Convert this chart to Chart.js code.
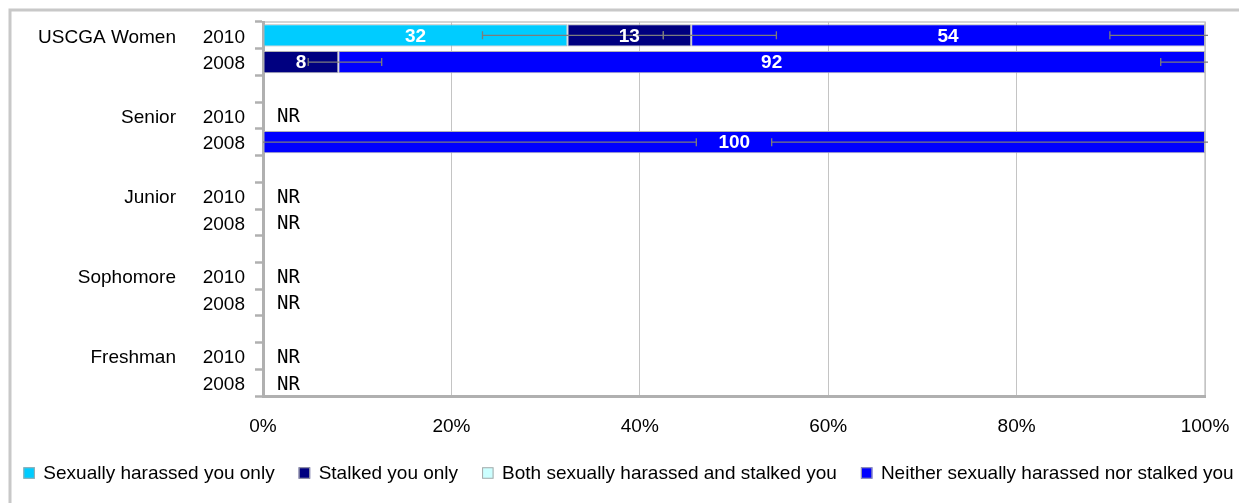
<!DOCTYPE html>
<html>
<head>
<meta charset="utf-8">
<script src="https://cdn.jsdelivr.net/npm/chart.js@4.4.1/dist/chart.umd.min.js"></script>
<style>
  body { margin: 0; background: #fff; }
  #wrap { position: relative; width: 1239px; height: 503px; }
</style>
</head>
<body>
<div id="wrap"><canvas id="chart"></canvas></div>
<script>
// row labels (blank rows are spacers between groups)
let years  = ['2010', '2008', '', '2010', '2008', '', '2010', '2008', '', '2010', '2008', '', '2010', '2008'];
let groups = ['USCGA Women', '', '', 'Senior', '', '', 'Junior', '', '', 'Sophomore', '', '', 'Freshman', ''];

// reported percentages, null = not reported
let harassedOnly = [32, 0, null, null, 0, null, null, null, null, null, null, null, null, null];
let stalkedOnly  = [13, 8, null, null, 0, null, null, null, null, null, null, null, null, null];
let bothHarassedStalked = [0, 0, null, null, 0, null, null, null, null, null, null, null, null, null];
let neither      = [54, 92, null, null, 100, null, null, null, null, null, null, null, null, null];

// margin of error bars, [low, high] on the percent axis
let harassedErr = [[23.3, 42.5], null, null, null, [-46, 46], null, null, null, null, null, null, null, null, null];
let stalkedErr  = [[42.5, 54.5], [4.8, 12.6], null, null, null, null, null, null, null, null, null, null, null, null];
let bothErr     = [null, null, null, null, null, null, null, null, null, null, null, null, null, null];
let neitherErr  = [[89.9, 110], [95.3, 104.7], null, null, [54, 146], null, null, null, null, null, null, null, null, null];

let seriesNames = ['Sexually harassed you only', 'Stalked you only', 'Both sexually harassed and stalked you', 'Neither sexually harassed nor stalked you'];
let seriesColors = ['#00ccff', '#000080', '#ccffff', '#0000ff'];

const FONT = '"Liberation Sans", Arial, sans-serif';
Chart.defaults.font.family = FONT;
Chart.defaults.font.size = 19;
Chart.defaults.color = '#000';

let allSeries = [harassedOnly, stalkedOnly, bothHarassedStalked, neither];
let allErr = [harassedErr, stalkedErr, bothErr, neitherErr];

// 100% stacked: each row scaled to its own total
let rowTotal = years.map((y, i) => allSeries.reduce((s, arr) => s + (arr[i] || 0), 0));
function toPct(arr) {
    return arr.map((v, i) => v == null ? null : v / rowTotal[i] * 100);
}

let datasets = allSeries.map((arr, k) => ({
    label: seriesNames[k],
    data: toPct(arr),
    raw: arr,
    err: allErr[k],
    backgroundColor: seriesColors[k],
    borderColor: '#b4b4b4',
    borderWidth: 1,
    borderSkipped: false,
    barPercentage: 0.835,
    categoryPercentage: 1
}));

const extras = {
    id: 'extras',
    beforeDraw(chart) {
        const ctx = chart.ctx, a = chart.chartArea;
        ctx.save();
        // outer frame
        ctx.strokeStyle = '#c8c8c8';
        ctx.lineWidth = 3;
        ctx.beginPath();
        ctx.moveTo(10, 510);
        ctx.lineTo(10, 10);
        ctx.lineTo(1250, 10);
        ctx.stroke();
        // plot frame
        ctx.lineWidth = 1.5;
        ctx.strokeRect(a.left, a.top, a.right - a.left, a.bottom - a.top);
        ctx.restore();
    },
    afterDatasetsDraw(chart) {
        const ctx = chart.ctx, a = chart.chartArea;
        const xs = chart.scales.x, ys = chart.scales.y;

        // error bars
        ctx.save();
        ctx.beginPath();
        ctx.rect(a.left, a.top, a.right - a.left + 3, a.bottom - a.top);
        ctx.clip();
        ctx.strokeStyle = '#7c7c7c';
        ctx.lineWidth = 1.3;
        chart.data.datasets.forEach((ds, k) => {
            const meta = chart.getDatasetMeta(k);
            ds.err.forEach((e, j) => {
                if (!e) return;
                const y = meta.data[j].y;
                const x1 = xs.getPixelForValue(e[0]);
                const x2 = xs.getPixelForValue(e[1]);
                ctx.beginPath();
                ctx.moveTo(Math.max(x1, a.left), y);
                ctx.lineTo(Math.min(x2, a.right + 3), y);
                if (x1 >= a.left) { ctx.moveTo(x1, y - 4); ctx.lineTo(x1, y + 4); }
                if (x2 <= a.right) { ctx.moveTo(x2, y - 4); ctx.lineTo(x2, y + 4); }
                ctx.stroke();
            });
        });
        ctx.restore();

        // value labels
        ctx.save();
        ctx.fillStyle = '#fff';
        ctx.font = 'bold 19px ' + FONT;
        ctx.textAlign = 'center';
        ctx.textBaseline = 'middle';
        chart.data.datasets.forEach((ds, k) => {
            const meta = chart.getDatasetMeta(k);
            ds.raw.forEach((v, j) => {
                if (!v) return;
                const c = meta.data[j].getCenterPoint();
                ctx.fillText(String(v), c.x, c.y + 1);
            });
        });

        // not reported rows
        ctx.fillStyle = '#000';
        ctx.font = '19px "DejaVu Sans Mono", monospace';
        ctx.textAlign = 'left';
        years.forEach((yr, j) => {
            if (!yr) return;
            const empty = allSeries.every(arr => arr[j] == null);
            if (empty) ctx.fillText('NR', a.left + 14, ys.getPixelForValue(j) + 2);
        });
        ctx.restore();
    },
    afterDraw(chart) {
        // legend row
        const ctx = chart.ctx;
        ctx.save();
        ctx.font = '19px ' + FONT;
        ctx.textBaseline = 'middle';
        const box = 11.5, gapText = 8.5, gapItem = 24;
        const widths = seriesNames.map(n => ctx.measureText(n).width);
        let total = widths.reduce((s, w) => s + box + gapText + w, 0) + gapItem * (seriesNames.length - 1);
        let x = 628.5 - total / 2;
        const yc = 473;
        seriesNames.forEach((n, k) => {
            ctx.fillStyle = seriesColors[k];
            ctx.fillRect(x, yc - box / 2, box, box);
            ctx.strokeStyle = '#a8a8a8';
            ctx.lineWidth = 1;
            ctx.strokeRect(x + 0.5, yc - box / 2 + 0.5, box - 1, box - 1);
            ctx.fillStyle = '#000';
            ctx.fillText(n, x + box + gapText, yc + 1);
            x += box + gapText + widths[k] + gapItem;
        });
        ctx.restore();
    }
};

new Chart(document.getElementById('chart'), {
    type: 'bar',
    data: { labels: years, datasets: datasets },
    options: {
        indexAxis: 'y',
        responsive: true,
        maintainAspectRatio: false,
        animation: false,
        layout: { padding: { top: 22, right: 34, bottom: 0, left: 0 } },
        plugins: { legend: { display: false }, tooltip: { enabled: false } },
        scales: {
            x: {
                stacked: true,
                min: 0,
                max: 100,
                ticks: { stepSize: 20, callback: v => v + '%', padding: 19 },
                grid: { color: '#c4c4c4', lineWidth: 1, drawTicks: false },
                border: { color: '#b0b0b0', width: 3 },
                afterFit(s) { s.height = 107; s.paddingLeft = 0; s.paddingRight = 0; }
            },
            y: {
                stacked: true,
                weight: 0,
                ticks: { autoSkip: false, padding: 10, labelOffset: 2 },
                grid: { offset: true, drawOnChartArea: false, color: '#b0b0b0', tickLength: 8, tickWidth: 2.5 },
                border: { color: '#b0b0b0', width: 3 },
                afterFit(s) { s.width = 87; }
            },
            y2: {
                type: 'category',
                position: 'left',
                labels: groups,
                offset: true,
                weight: 1,
                ticks: { autoSkip: false, padding: 0, labelOffset: 2 },
                grid: { display: false, drawTicks: false },
                border: { display: false },
                afterFit(s) { s.width = 176; }
            }
        }
    },
    plugins: [extras]
});
</script>
</body>
</html>
